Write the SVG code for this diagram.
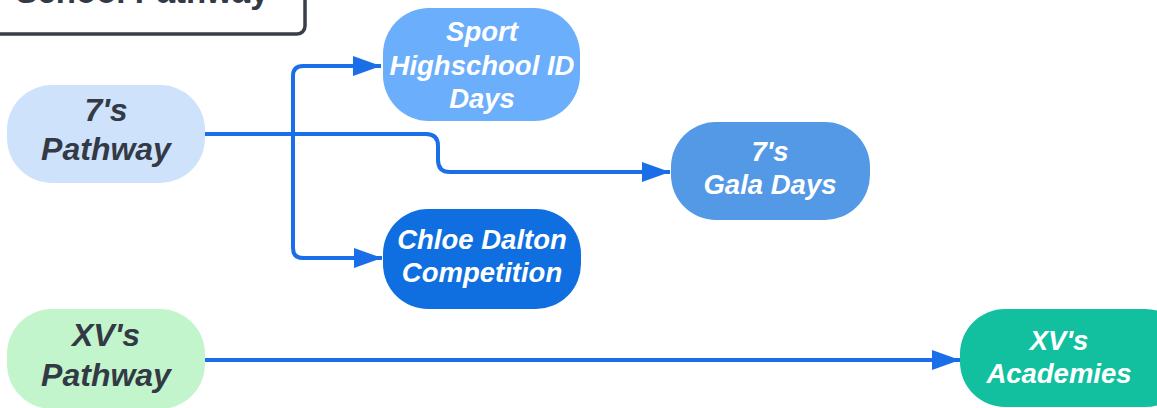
<svg xmlns="http://www.w3.org/2000/svg" width="1157" height="408" viewBox="0 0 1157 408">
<defs>
<style>
.lbl{font-family:"Liberation Sans",Arial,sans-serif;font-weight:bold;font-style:italic;text-anchor:middle}
.dark{fill:#333a45;font-size:32px}
.wht{fill:#ffffff;font-size:27.5px}
.conn{fill:none;stroke:#1a6fe8;stroke-width:4;stroke-linejoin:round}
</style>
<marker id="arr" markerUnits="userSpaceOnUse" markerWidth="30" markerHeight="22" refX="28" refY="11" orient="auto">
<path d="M0,1 L28,11 L0,21 Z" fill="#1a6fe8"/>
</marker>
</defs>
<rect width="1157" height="408" fill="#ffffff"/>
<g id="title">
<rect x="-20" y="-40" width="325" height="74" rx="8" fill="#ffffff" stroke="#3a3f47" stroke-width="3.5"/>
<text x="142" y="3" font-family="'Liberation Sans',Arial,sans-serif" font-weight="bold" font-size="33" fill="#333a45" text-anchor="middle">School Pathway</text>
</g>
<g id="connectors">
<path class="conn" d="M205,134 H426 Q438,134 438,146 V160 Q438,172 450,172 H670" marker-end="url(#arr)"/>
<path class="conn" d="M293,134 V76 Q293,66 303,66 H381" marker-end="url(#arr)"/>
<path class="conn" d="M293,134 V248 Q293,258 303,258 H382" marker-end="url(#arr)"/>
<path class="conn" d="M205,360 H960" marker-end="url(#arr)"/>
</g>
<g id="n7pathway">
<rect x="7" y="85" width="198" height="98" rx="45" fill="#cfe2fc"/>
<text class="lbl dark" x="106" y="121">7's</text>
<text class="lbl dark" x="106" y="160">Pathway</text>
</g>
<g id="nsport">
<rect x="383" y="8" width="197" height="113" rx="46" fill="#6aaefc"/>
<text class="lbl wht" x="482" y="41">Sport</text>
<text class="lbl wht" x="482" y="75">Highschool ID</text>
<text class="lbl wht" x="482" y="108">Days</text>
</g>
<g id="ngala">
<rect x="671" y="122" width="199" height="98" rx="45" fill="#5499e6"/>
<text class="lbl wht" x="770" y="161">7's</text>
<text class="lbl wht" x="770" y="194">Gala Days</text>
</g>
<g id="nchloe">
<rect x="383" y="209" width="198" height="100" rx="45" fill="#0f6fe0"/>
<text class="lbl wht" x="482" y="249">Chloe Dalton</text>
<text class="lbl wht" x="482" y="282">Competition</text>
</g>
<g id="nxvpathway">
<rect x="7" y="309" width="198" height="100" rx="45" fill="#c3f5cc"/>
<text class="lbl dark" x="106" y="346">XV's</text>
<text class="lbl dark" x="106" y="386">Pathway</text>
</g>
<g id="nacademies">
<rect x="960" y="309" width="230" height="98" rx="45" fill="#12c0a0"/>
<text class="lbl wht" x="1059" y="350">XV's</text>
<text class="lbl wht" x="1059" y="383">Academies</text>
</g>
</svg>
